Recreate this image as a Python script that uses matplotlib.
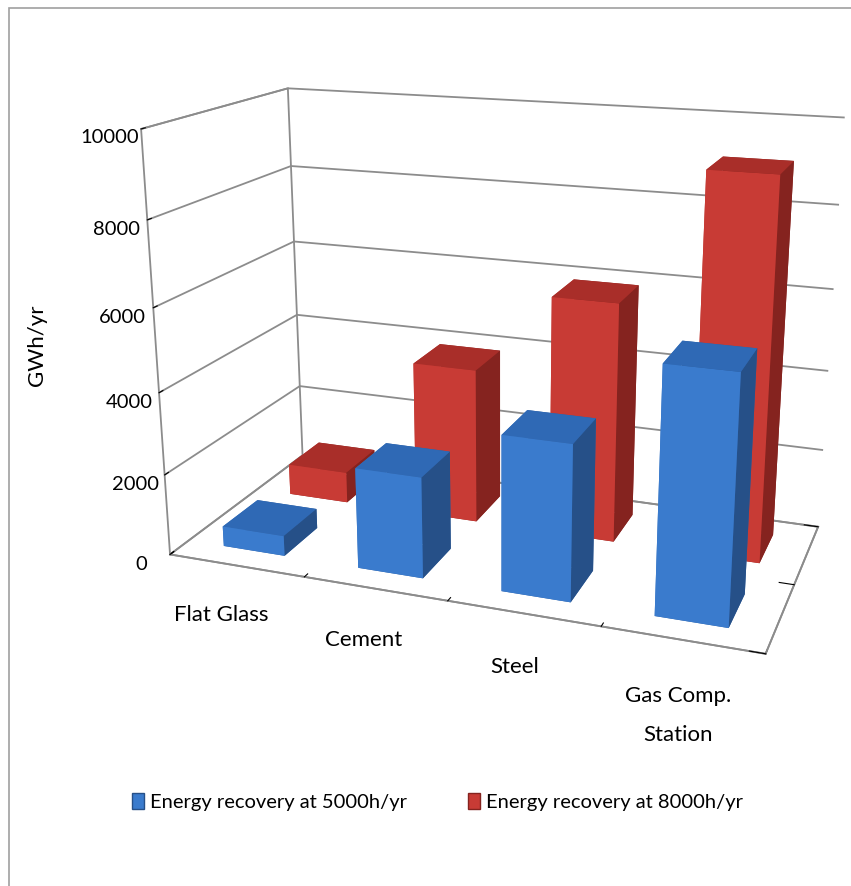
import numpy as np
import matplotlib.pyplot as plt
from matplotlib.patches import Patch, Rectangle

categories = ["Flat Glass", "Cement", "Steel", "Gas Comp.\nStation"]
series_names = ["Energy recovery at 5000h/yr", "Energy recovery at 8000h/yr"]
recovery_5000 = [500, 2450, 3700, 5700]
recovery_8000 = [800, 3900, 5900, 9100]
z_ticks = [0, 2000, 4000, 6000, 8000, 10000]

# face colours in bar3d order: -z, +z, -y, +y, -x, +x
blue_faces = ['#2f5f9e', '#2f69b5', '#3a7bcd', '#2f5f9e', '#3370bd', '#265088']
red_faces = ['#8e2723', '#a92e29', '#c83b35', '#8e2723', '#b8332d', '#85231f']
legend_blue = '#3a7bcd'
legend_red = '#c83b35'
grid_col = '#8c8c8c'

plt.rcParams['font.family'] = ['Lato', 'DejaVu Sans']

fig = plt.figure(figsize=(8.51, 8.86), dpi=100)
ax = fig.add_axes([0.117, 0.2, 0.92, 0.81], projection='3d')
ax.set_proj_type('persp', focal_length=0.4)
ax.view_init(elev=17, azim=-70)
ax.set_box_aspect((0.825, 0.40, 0.589), zoom=1.09)

bar_w = 0.46
bar_d = 0.5
x = np.arange(len(categories))
n = len(categories)

# back row first, then the front row
ax.bar3d(x - bar_w / 2, np.full(n, 1.0) - bar_d / 2, np.zeros(n), bar_w, bar_d,
         recovery_8000, color=red_faces * n, shade=False, linewidth=0)
ax.bar3d(x - bar_w / 2, np.zeros(n) - bar_d / 2, np.zeros(n), bar_w, bar_d,
         recovery_5000, color=blue_faces * n, shade=False, linewidth=0)

ax.set_xlim(-0.5, 3.5)
ax.set_ylim(-0.5, 1.5)
ax.set_zlim(0, 10000)

ax.set_xticks([-0.5, 0.5, 1.5, 2.5, 3.5])
ax.set_xticklabels([])
ax.set_yticks([-0.5, 0.5, 1.5])
ax.set_yticklabels([])
ax.set_zticks(z_ticks)
ax.set_zticklabels([str(v) for v in z_ticks], fontsize=14.5)
ax.zaxis.set_ticks_position('lower')
ax.zaxis.set_label_position('lower')

for axis in (ax.xaxis, ax.yaxis, ax.zaxis):
    axis.pane.fill = False
    axis.pane.set_edgecolor((1, 1, 1, 0))
    axis.line.set_color(grid_col)
    axis.line.set_linewidth(1.3)
    axis._axinfo['tick']['color'] = grid_col
    axis._axinfo['tick']['inward_factor'] = 0.0
    axis._axinfo['tick']['outward_factor'] = 0.3
for pane_axis in (ax.xaxis, ax.zaxis):
    pane_axis.pane.set_edgecolor(grid_col)
    pane_axis.pane.set_alpha(1)
    pane_axis.pane.set_linewidth(1.3)

for axis in (ax.xaxis, ax.yaxis):
    axis._axinfo['grid']['color'] = (1, 1, 1, 0)
    axis._axinfo['grid']['linewidth'] = 0
ax.zaxis._axinfo['grid']['color'] = grid_col
ax.zaxis._axinfo['grid']['linewidth'] = 1.3

# category names sit just in front of the floor's front edge
for xi, name in zip(x, categories):
    ax.text(xi + 0.05, -0.8, -500, name, ha='center', va='top', fontsize=16,
            linespacing=2.2)

fig.text(0.043, 0.61, "GWh/yr", rotation=90, ha='center', va='center', fontsize=16)

handles = [Patch(facecolor=legend_blue, edgecolor='#265088'),
           Patch(facecolor=legend_red, edgecolor='#85231f')]
fig.legend(handles, series_names, loc='center', bbox_to_anchor=(0.514, 0.095),
           ncol=2, frameon=False, fontsize=14.5, handlelength=0.6, handleheight=0.9,
           handletextpad=0.3, columnspacing=3.0)

fig.patches.append(Rectangle((9 / 851, -0.05), 1.2, (886 - 8) / 886 + 0.05,
                             transform=fig.transFigure, fill=False,
                             edgecolor='#a0a0a0', linewidth=1.2))

fig.savefig('out.png', dpi=100)
